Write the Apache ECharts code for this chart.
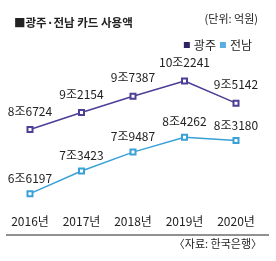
<!DOCTYPE html>
<html><head><meta charset="utf-8">
<script src="https://cdn.jsdelivr.net/npm/echarts@6/dist/echarts.min.js"></script>
<style>html,body{margin:0;padding:0;background:#fff}#c{width:276px;height:261px}</style>
</head><body><div id="c"></div>
<script>
const years = ['2016년','2017년','2018년','2019년','2020년'];
const gwangju = [86724, 92154, 97387, 102241, 95142];
const jeonnam = [66197, 73423, 79487, 84262, 83180];
const seriesNames = ['광주','전남'];
const FONT = '"Liberation Sans Narrow","Noto Sans CJK KR",sans-serif';
function fmt(v){ const jo = Math.floor(v/10000); const r = v%10000; return jo+'조'+r; }
const chart = echarts.init(document.getElementById('c'));
chart.setOption({
  animation:false,
  title:{text:'■광주·전남 카드 사용액', left:9, top:12, textStyle:{fontSize:11.5, fontWeight:'bold', color:'#222', fontFamily:'"Noto Sans CJK KR",sans-serif'}},
  legend:{right:19, top:34, itemWidth:6, itemHeight:6, itemGap:4, icon:'rect',
    textStyle:{fontSize:12, color:'#222', fontFamily:'"Noto Sans CJK KR",sans-serif', padding:[0,0,0,-1]},
    data:[{name:seriesNames[0], itemStyle:{color:'#2d2466'}},{name:seriesNames[1], itemStyle:{color:'#5aaee0'}}]},
  grid:{left:4.25, right:14.25, top:25.5, bottom:48, containLabel:false},
  xAxis:{type:'category', data:years, boundaryGap:true, axisLine:{show:false}, axisTick:{show:false},
    axisLabel:{margin:2, fontSize:12, color:'#222', fontFamily:FONT}},
  yAxis:{type:'value', min:60000, max:120000, show:false, splitLine:{show:false}},
  series:[
    {name:seriesNames[0], type:'line', data:gwangju, symbol:'emptyRect', symbolSize:5,
     lineStyle:{color:'#4b3f96', width:1.5}, itemStyle:{color:'#4b3f96', borderWidth:1.2},
     label:{show:true, position:'top', distance:9, fontSize:12, color:'#222', fontFamily:FONT, formatter:p=>fmt(p.value)}},
    {name:seriesNames[1], type:'line', data:jeonnam, symbol:'emptyRect', symbolSize:5,
     lineStyle:{color:'#3aa0d8', width:1.5}, itemStyle:{color:'#3aa0d8', borderWidth:1.2},
     label:{show:true, position:'top', distance:6, fontSize:12, color:'#222', fontFamily:FONT, formatter:p=>fmt(p.value)}}
  ],
  graphic:[
    {type:'text', right:18, top:13, style:{text:'(단위: 억원)', fontSize:11, fill:'#222', fontFamily:FONT}},
    {type:'line', shape:{x1:6, y1:235, x2:269, y2:235}, style:{stroke:'#222', lineWidth:1}},
    {type:'text', right:14, top:238, style:{text:'〈자료: 한국은행〉', fontSize:11, fill:'#222', fontFamily:FONT}}
  ]
});
</script></body></html>
